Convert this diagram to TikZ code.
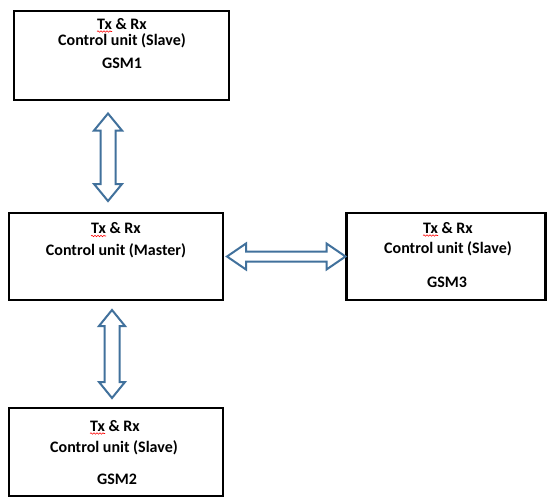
\documentclass[tikz,border=0pt]{standalone}
\usepackage{fontspec}
\setmainfont{Carlito}
\usetikzlibrary{calc,decorations.pathmorphing}
\definecolor{arrowblue}{HTML}{41719C}
\newcommand\vdblarrow[5]{%
  \draw[blockarrow] (#1) -- ($(#1)+(#4,#5)$) -- ($(#1)+(#3,#5)$) -- ($(#2)+(#3,-#5)$) -- ($(#2)+(#4,-#5)$) -- (#2)
    -- ($(#2)+(-#4,-#5)$) -- ($(#2)+(-#3,-#5)$) -- ($(#1)+(-#3,#5)$) -- ($(#1)+(-#4,#5)$) -- cycle;}
\newcommand\hdblarrow[5]{%
  \draw[blockarrow] (#1) -- ($(#1)+(#5,-#4)$) -- ($(#1)+(#5,-#3)$) -- ($(#2)+(-#5,-#3)$) -- ($(#2)+(-#5,-#4)$) -- (#2)
    -- ($(#2)+(-#5,#4)$) -- ($(#2)+(-#5,#3)$) -- ($(#1)+(#5,#3)$) -- ($(#1)+(#5,#4)$) -- cycle;}
\begin{document}
\begin{tikzpicture}[x=1pt,y=-1pt,
  box/.style={draw=black,line width=2.8pt,fill=white,inner sep=0pt,outer sep=0pt},
  lbl/.style={font=\bfseries\fontsize{16}{19}\selectfont,anchor=base,inner sep=0pt},
  blockarrow/.style={draw=arrowblue,line width=2pt,fill=white,line join=miter},
  squig/.style={draw=red,line width=0.6pt,decorate,decoration={snake,amplitude=0.7pt,segment length=3pt}}]
\useasboundingbox[fill=white] (0,0) rectangle (547,498);
% boxes
\node[box,minimum width=215,minimum height=89] (gsm1) at (121.5,55.5) {};
\node[box,minimum width=214,minimum height=87] (master) at (116,256.5) {};
\node[box,minimum width=199,minimum height=87] (gsm3) at (446,256.5) {};
\node[box,minimum width=214,minimum height=88] (gsm2) at (116,452) {};
% texts
\node[lbl] (g1a) at (122,29) {Tx \& Rx};
\node[lbl] (g1b) at (122,45.5) {Control unit (Slave)};
\node[lbl] (g1c) at (122,68.5) {GSM1};
\node[lbl] (ma) at (116,233.5) {Tx \& Rx};
\node[lbl] (mb) at (116,255) {Control unit (Master)};
\node[lbl] (g3a) at (448,233) {Tx \& Rx};
\node[lbl] (g3b) at (448,253.5) {Control unit (Slave)};
\node[lbl] (g3c) at (447,287) {GSM3};
\node[lbl] (g2a) at (115,431) {Tx \& Rx};
\node[lbl] (g2b) at (114,452) {Control unit (Slave)};
\node[lbl] (g2c) at (117,484.5) {GSM2};
% spelling squiggles under "Tx"
\foreach \n in {g1a,ma,g3a,g2a}{
  \draw[squig] ($(\n.base west)+(0,2.5)$) -- ++(15,0);
}
% arrows
\coordinate (a1t) at ($(gsm1.south)+(-13.5,13.5)$);
\coordinate (a1b) at ($(master.north)+(-8,-12)$);
\vdblarrow{a1t}{a1b}{7.5}{14}{17}
\coordinate (a2t) at ($(master.south)+(-4,10)$);
\coordinate (a2b) at ($(gsm2.north)+(-4,-10)$);
\vdblarrow{a2t}{a2b}{7.5}{13}{16}
\coordinate (a3l) at ($(master.east)+(4,0)$);
\coordinate (a3r) at ($(gsm3.west)+(-1,0)$);
\hdblarrow{a3l}{a3r}{5}{13}{19}
\end{tikzpicture}
\end{document}
